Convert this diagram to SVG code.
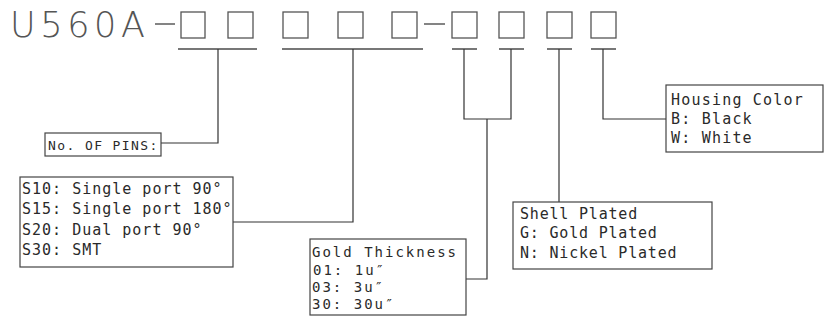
<svg xmlns="http://www.w3.org/2000/svg" width="825" height="325" viewBox="0 0 825 325">
<style>
.t{font-family:"DejaVu Sans Mono","Liberation Mono",monospace;fill:#2a2a2a;font-size:15px}
.title{font-family:"DejaVu Sans","Inter",sans-serif;font-weight:200;font-size:35px;fill:#555}
.bx{fill:none;stroke:#444;stroke-width:1.2}
.sq{fill:none;stroke:#555;stroke-width:1.3}
.ul{stroke:#777;stroke-width:2}
.ln{fill:none;stroke:#333;stroke-width:1.2}
</style>
<rect width="825" height="325" fill="#fff"/>
<g id="title">
<text class="title" x="10" y="37" textLength="135" lengthAdjust="spacing">U560A</text>
<line class="ln" x1="155" y1="24" x2="175" y2="24" stroke="#555"/>
<line class="ln" x1="424" y1="24" x2="445" y2="24"/>
<rect class="sq" x="181" y="12" width="24" height="26"/>
<rect class="sq" x="228" y="12" width="25" height="26"/>
<rect class="sq" x="283" y="12" width="25" height="26"/>
<rect class="sq" x="338" y="12" width="25" height="26"/>
<rect class="sq" x="392" y="12" width="25" height="26"/>
<rect class="sq" x="452" y="12" width="25" height="26"/>
<rect class="sq" x="499" y="12" width="25" height="26"/>
<rect class="sq" x="547" y="12" width="25" height="26"/>
<rect class="sq" x="591" y="12" width="25" height="26"/>
</g>
<g id="connectors">
<line class="ul" x1="178" y1="49" x2="257" y2="49"/>
<line class="ul" x1="282" y1="49" x2="423" y2="49"/>
<line class="ul" x1="452" y1="49" x2="477" y2="49"/>
<line class="ul" x1="499" y1="49" x2="524" y2="49"/>
<line class="ul" x1="547" y1="49" x2="572" y2="49"/>
<line class="ul" x1="591" y1="49" x2="616" y2="49"/>
<polyline class="ln" points="218,49 218,143 161,143"/>
<polyline class="ln" points="353,49 353,222 233,222"/>
<polyline class="ln" points="464,49 464,119 511,119 511,49"/>
<polyline class="ln" points="487,119 487,279 466,279"/>
<line class="ln" x1="559" y1="49" x2="559" y2="202"/>
<polyline class="ln" points="603,49 603,119 666,119"/>
</g>
<g id="pins">
<rect class="bx" x="45" y="133" width="116" height="23"/>
<text class="t" x="48" y="150" style="font-size:13px;letter-spacing:1.4px">No. OF PINS:</text>
</g>
<g id="type">
<rect class="bx" x="20" y="177" width="213" height="90"/>
<text class="t" style="letter-spacing:1px"><tspan x="22" y="194">S10: Single port 90°</tspan><tspan x="22" y="214">S15: Single port 180°</tspan><tspan x="22" y="235">S20: Dual port 90°</tspan><tspan x="22" y="255">S30: SMT</tspan></text>
</g>
<g id="gold">
<rect class="bx" x="310" y="239" width="156" height="76"/>
<text class="t" style="font-size:14px;letter-spacing:2px"><tspan x="312" y="257">Gold Thickness</tspan><tspan x="313" y="275">01: 1u″</tspan><tspan x="312" y="292">03: 3u″</tspan><tspan x="312" y="309">30: 30u″</tspan></text>
</g>
<g id="shell">
<rect class="bx" x="513" y="202" width="199" height="67"/>
<text class="t" style="letter-spacing:0.8px"><tspan x="520" y="219">Shell Plated</tspan><tspan x="520" y="238">G: Gold Plated</tspan><tspan x="520" y="258">N: Nickel Plated</tspan></text>
</g>
<g id="housing">
<rect class="bx" x="666" y="85" width="157" height="67"/>
<text class="t" style="letter-spacing:1.2px"><tspan x="671" y="105">Housing Color</tspan><tspan x="671" y="124">B: Black</tspan><tspan x="671" y="143">W: White</tspan></text>
</g>
</svg>
